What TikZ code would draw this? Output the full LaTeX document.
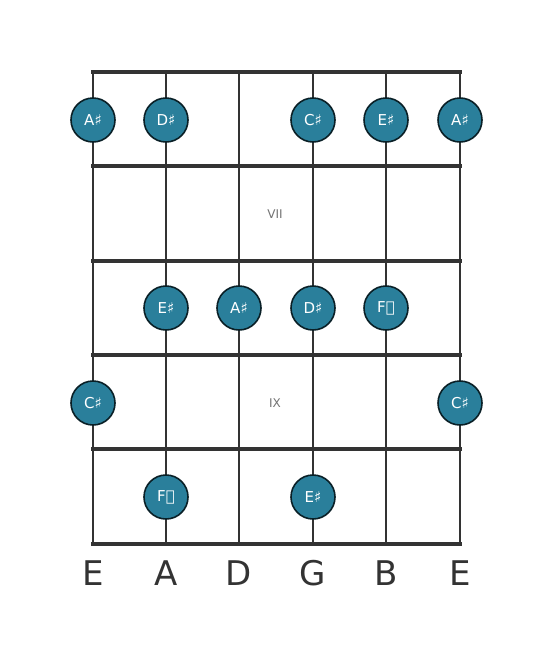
\documentclass[tikz,border=0pt]{standalone}
\usepackage{fontspec}
\setmainfont{DejaVu Sans}
\definecolor{notefill}{HTML}{2A7F9B}
\definecolor{ink}{HTML}{333333}
\begin{document}
\begin{tikzpicture}[x=1pt,y=-1pt,
  fret/.style={line width=4.6pt,draw=ink},
  str/.style={line width=2.8pt,draw=ink},
  note/.style={circle,minimum size=44pt,inner sep=0pt,fill=notefill,draw=black!75!notefill,line width=1.6pt,text=white,font=\fontsize{15}{16}\selectfont},
  fretlabel/.style={text=black!55,font=\fontsize{12}{13}\selectfont},
  sname/.style={text=ink,font=\fontsize{34}{36}\selectfont}]
\useasboundingbox (0,0) rectangle (553,656);
% strings
\foreach \x [count=\i] in {93,166,239,313,386,460}{
  \coordinate (s\i t) at (\x,72);
  \coordinate (s\i b) at (\x,544);
  \draw[str] (s\i t) -- (s\i b);
}
% frets
\foreach \y [count=\j] in {72,166,261,355,449,544}{
  \coordinate (f\j l) at (93,\y);
  \coordinate (f\j r) at (460,\y);
  \draw[fret,line cap=rect] (f\j l) -- (f\j r);
}
\node[fretlabel] (p7) at (275,214) {VII};
\node[fretlabel] (p9) at (275,403) {IX};
% notes
\node[note] (n1) at (93,120) {A♯};
\node[note] (n2) at (166,120) {D♯};
\node[note] (n3) at (313,120) {C♯};
\node[note] (n4) at (386,120) {E♯};
\node[note] (n5) at (460,120) {A♯};
\node[note] (n6) at (166,308) {E♯};
\node[note] (n7) at (239,308) {A♯};
\node[note] (n8) at (313,308) {D♯};
\node[note] (n9) at (386,308) {F𝄪};
\node[note] (n10) at (93,403) {C♯};
\node[note] (n11) at (460,403) {C♯};
\node[note] (n12) at (166,497) {F𝄪};
\node[note] (n13) at (313,497) {E♯};
% string names
\foreach \x/\t [count=\i] in {93/E,166/A,239/D,313/G,386/B,460/E}{
  \node[sname] (l\i) at (\x,573) {\t};
}
\end{tikzpicture}
\end{document}
